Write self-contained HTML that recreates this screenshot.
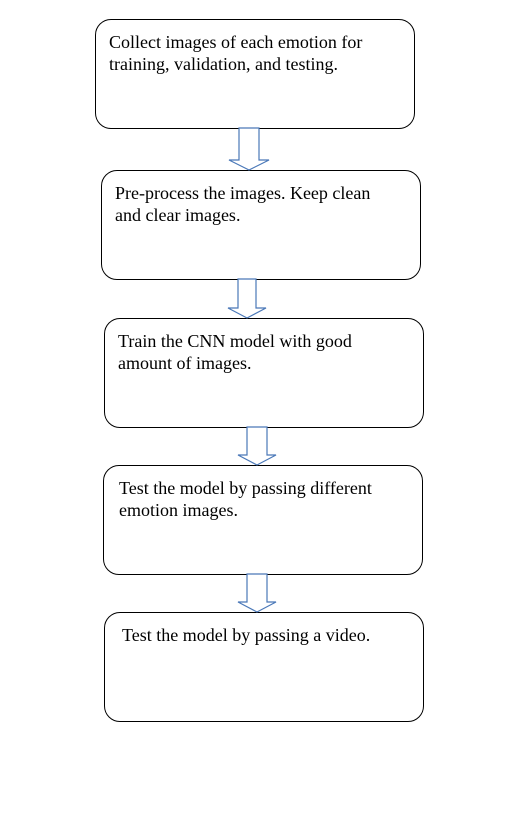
<!DOCTYPE html>
<html><head><style>
body{margin:0;width:506px;height:835px;background:#fff;position:relative;font-family:"Liberation Serif",serif;}
.b{position:absolute;border:1px solid #000;border-radius:16px;box-sizing:border-box;width:320px;height:110px;font-size:18px;line-height:22px;padding:11px 24px 9px 13px;color:#000;}
svg{position:absolute;left:0;top:0}
</style></head><body>
<div class="b" style="left:95px;top:19px">Collect images of each emotion for training, validation, and testing.</div>
<div class="b" style="left:101px;top:170px">Pre-process the images. Keep clean and clear images.</div>
<div class="b" style="left:104px;top:318px">Train the CNN model with good amount of images.</div>
<div class="b" style="left:103px;top:465px;padding-left:15px">Test the model by passing different emotion images.</div>
<div class="b" style="left:104px;top:612px;padding-left:17px">Test the model by passing a video.</div>
<svg width="506" height="835">
<g fill="#fff" stroke="#4a78b8" stroke-width="1.2">
<polygon points="239,128 259,128 259,160 269,160 249,170 229,160 239,160"/>
<polygon points="238,279 256,279 256,308 266,308 247,318 228,308 238,308"/>
<polygon points="247,427 267,427 267,455 276,455 257,465 238,455 247,455"/>
<polygon points="247,574 267,574 267,602 276,602 257,612 238,602 247,602"/>
</g>
</svg>
</body></html>
